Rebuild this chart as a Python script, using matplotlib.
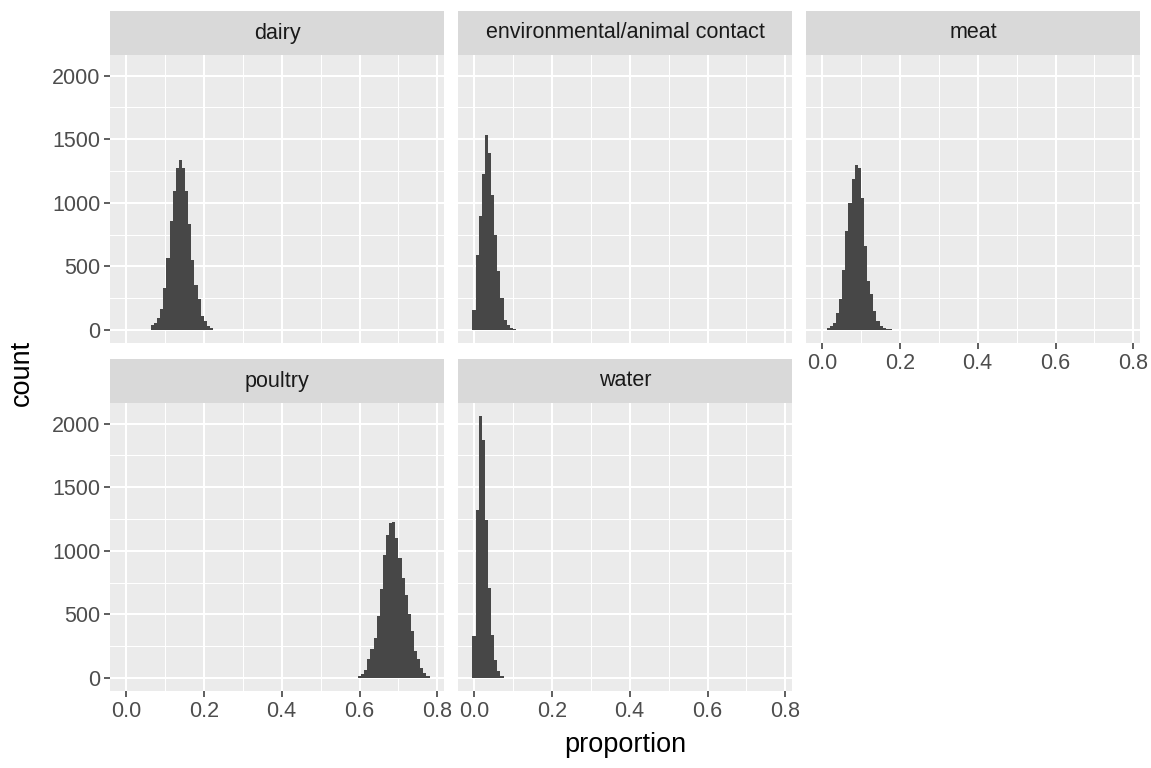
import numpy as np
import matplotlib
matplotlib.use('Agg')
import matplotlib.pyplot as plt

plt.rcParams['font.family'] = ['Liberation Sans', 'DejaVu Sans']

# histogram data: bin width, first bin left edge and counts per facet
binwidth = 0.008
facets = ['dairy', 'environmental/animal contact', 'meat', 'poultry', 'water']
dairy_start = 0.064
dairy_counts = [40, 55, 95, 165, 330, 565, 855, 1090, 1270, 1340,
                1270, 1090, 830, 550, 350, 240, 110, 70, 30, 15]
env_start = -0.004
env_counts = [160, 590, 895, 1230, 1530, 1390, 1060, 750, 460, 250,
              80, 40, 15, 8, 3]
meat_start = 0.012
meat_counts = [15, 30, 55, 135, 240, 470, 775, 995, 1190, 1300, 1270,
               1035, 660, 385, 280, 150, 70, 30, 15, 10, 5]
poultry_start = 0.596
poultry_counts = [13, 30, 60, 145, 230, 314, 486, 697, 967, 1124, 1216,
                  1225, 1098, 941, 790, 653, 500, 366, 209, 145, 80, 40, 13]
water_start = -0.004
water_counts = [330, 1320, 2060, 1870, 1240, 706, 340, 144, 52, 15]

starts = [dairy_start, env_start, meat_start, poultry_start, water_start]
counts = [dairy_counts, env_counts, meat_counts, poultry_counts, water_counts]

x_ticks = [0.0, 0.2, 0.4, 0.6, 0.8]
x_minor = [0.1, 0.3, 0.5, 0.7]
y_ticks = [0, 500, 1000, 1500, 2000]
y_minor = [250, 750, 1250, 1750]

W, H = 1151, 768
fig = plt.figure(figsize=(W / 100, H / 100), dpi=100)

col_x = [110, 458, 806]
panel_w = 334
row_y = [55, 403]   # top of panel (px from top)
panel_h = 288
strip_h = 44

xmax_all = 0.778
ymax_all = max(max(c) for c in counts)
xlim = (-0.002 - 0.039, xmax_all + 0.039)
ylim = (-0.05 * ymax_all, ymax_all * 1.05)

grey_text = '#4D4D4D'
for i, name in enumerate(facets):
    r, c = divmod(i, 3)
    left = col_x[c]
    top = row_y[r]
    ax = fig.add_axes([left / W, 1 - (top + panel_h) / H, panel_w / W, panel_h / H])
    ax.set_facecolor('#EBEBEB')
    for s in ax.spines.values():
        s.set_visible(False)
    ax.set_xlim(xlim)
    ax.set_ylim(ylim)
    ax.set_xticks(x_ticks)
    ax.set_xticks(x_minor, minor=True)
    ax.set_yticks(y_ticks)
    ax.set_yticks(y_minor, minor=True)
    ax.grid(which='major', color='white', lw=1.5)
    ax.grid(which='minor', color='white', lw=0.75)
    ax.set_axisbelow(True)

    n = len(counts[i])
    edges = starts[i] + binwidth * np.arange(n + 1)
    ax.stairs(counts[i], edges, fill=True, color='#474747')

    ax.tick_params(which='minor', length=0)
    ax.tick_params(which='major', length=4, width=1.1, color='#333333',
                   labelsize=15.5, labelcolor=grey_text, pad=3)
    show_x = (r == 1) or (c == 2)
    show_y = (c == 0)
    ax.tick_params(axis='x', bottom=show_x, labelbottom=show_x)
    ax.tick_params(axis='y', left=show_y, labelleft=show_y)
    if show_x:
        ax.set_xticklabels(['%.1f' % v for v in x_ticks])

    sax = fig.add_axes([left / W, 1 - top / H, panel_w / W, strip_h / H])
    sax.set_facecolor('#D9D9D9')
    sax.set_xticks([])
    sax.set_yticks([])
    for s in sax.spines.values():
        s.set_visible(False)
    sax.text(0.5, 0.5, name, ha='center', va='center', fontsize=15.5,
             color='#1A1A1A', transform=sax.transAxes)

fig.text(625 / W, 1 - 745 / H, 'proportion', ha='center', va='center',
         fontsize=19.5, color='black')
fig.text(22 / W, 1 - 373 / H, 'count', ha='center', va='center',
         fontsize=19.5, rotation=90, color='black')

fig.savefig('out.png', dpi=100, facecolor='white')
